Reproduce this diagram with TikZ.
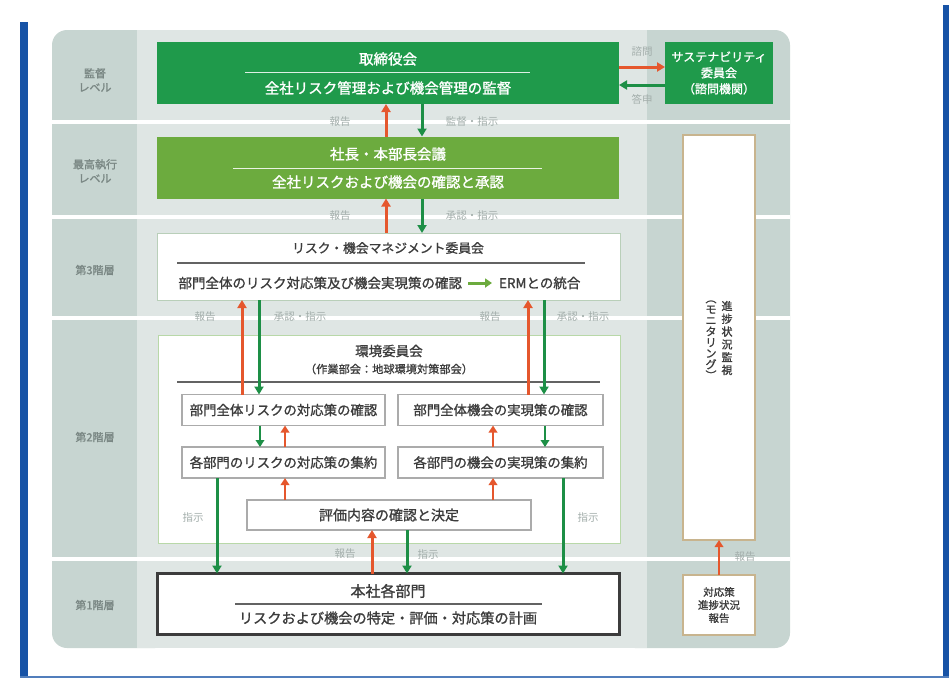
\documentclass[tikz,border=0pt]{standalone}
\usepackage{fontspec}
\setmainfont{Noto Sans CJK JP}
\newfontfamily\jpm{Noto Sans CJK JP}[FakeBold=1.2]
\usetikzlibrary{arrows.meta}
\definecolor{pnlDark}{HTML}{C7D5D1}
\definecolor{pnlLight}{HTML}{DFE6E4}
\definecolor{gDark}{HTML}{1F9A4B}
\definecolor{gLight}{HTML}{6CAB3E}
\definecolor{arrRed}{HTML}{E5572D}
\definecolor{arrGreen}{HTML}{1D8F46}
\definecolor{lblGray}{HTML}{A3AEAB}
\definecolor{lvlGray}{HTML}{7A8784}
\definecolor{txtDark}{HTML}{3C3C3C}
\definecolor{frameBlue}{HTML}{1753A6}
\definecolor{tanLine}{HTML}{C8B48E}
\definecolor{subLine}{HTML}{ABABAB}
\definecolor{bThreeLine}{HTML}{B9CFB9}
\definecolor{bFourLine}{HTML}{B8D8A8}
\begin{document}
\begin{tikzpicture}[x=1pt,y=-1pt,
  every node/.style={inner sep=0pt, outer sep=0pt},
  lvl/.style={text=lvlGray, font=\jpm\fontsize{11}{14}\selectfont, align=center},
  lbl/.style={text=lblGray, font=\fontsize{10.5}{12}\selectfont},
  gbox/.style={minimum width=462pt, minimum height=62pt},
  wtxt/.style={text=white, font=\jpm\fontsize{14.5}{16}\selectfont},
  dtxt/.style={text=txtDark, font=\jpm\fontsize{13.5}{15}\selectfont},
  sbox/.style={draw=subLine, line width=1.5pt, fill=white, minimum height=31pt, text=txtDark, font=\jpm\fontsize{13.4}{15}\selectfont},
  tanbox/.style={draw=tanLine, line width=1.5pt, fill=white, minimum width=72pt},
  uparr/.style={draw=arrRed, line width=3pt, -{Triangle[length=8pt,width=9pt]}},
  dnarr/.style={draw=arrGreen, line width=3pt, -{Triangle[length=8pt,width=9pt]}},
  upsm/.style={draw=arrRed, line width=2.5pt, -{Triangle[length=7pt,width=8.5pt]}},
  dnsm/.style={draw=arrGreen, line width=2.5pt, -{Triangle[length=7pt,width=8.5pt]}},
  vt/.style={align=center, text=txtDark, font=\jpm\fontsize{11}{12.8}\selectfont}
]
\useasboundingbox (0,0) rectangle (949,678);
% blue frame
\fill[frameBlue] (20,22) rectangle (28,678);
\fill[frameBlue] (943,5) rectangle (949,678);
\fill[frameBlue!75] (20,676) rectangle (949,678);
% panel
\fill[pnlDark, rounded corners=15pt] (52,30) rectangle (170,648);
\fill[pnlDark, rounded corners=15pt] (620,30) rectangle (790,648);
\fill[pnlLight] (137,30) rectangle (647,648);
\foreach \yy in {120,215,316,557} \fill[white] (52,\yy) rectangle (790,\yy+4);

% level labels
\node[lvl] (lv1) at (95,80) {監督\\レベル};
\node[lvl] (lv2) at (95,171) {最高執行\\レベル};
\node[lvl] (lv3) at (95,270) {第3階層};
\node[lvl] (lv4) at (95,437) {第2階層};
\node[lvl] (lv5) at (95,605) {第1階層};

% box 1
\node[gbox, fill=gDark] (b1) at (388,73) {};
\node[wtxt] (b1t) at (388,59) {取締役会};
\draw[white!85!gDark, line width=0.8pt] (245,72) -- (530,72);
\node[wtxt] (b1s) at (388,88) {全社リスク管理および機会管理の監督};

% sustainability committee
\node[fill=gDark, minimum width=108pt, minimum height=62pt] (sc) at (719,73) {};
\node[text=white, align=center, font=\jpm\fontsize{12}{16}\selectfont] (sct) at (719,73) {サステナビリティ\\委員会\\（諮問機関）};
\coordinate (yr) at (0,67);
\coordinate (yg) at (0,85);
\draw[uparr] (b1.east |- yr) -- (sc.west |- yr);
\draw[dnarr] (sc.west |- yg) -- (b1.east |- yg);
\node[lbl] (l0a) at (642,52) {諮問};
\node[lbl] (l0b) at (642,99) {答申};

% box 2
\node[gbox, fill=gLight] (b2) at (388,167.5) {};
\node[wtxt] (b2t) at (388,154) {社長・本部長会議};
\draw[white!85!gLight, line width=0.8pt] (233,168) -- (542,168);
\node[wtxt] (b2s) at (388,182) {全社リスクおよび機会の確認と承認};

% box 3
\node[draw=bThreeLine, line width=1pt, fill=white, minimum width=463pt, minimum height=67pt] (b3) at (388.5,266.5) {};
\node[dtxt, font=\jpm\fontsize{12.8}{15}\selectfont] (b3t) at (388,248) {リスク・機会マネジメント委員会};
\draw[txtDark!80, line width=2pt] (177,263) -- (585,263);
\node[dtxt, anchor=east] (b3a) at (462,283) {部門全体のリスク対応策及び機会実現策の確認};
\node[dtxt, anchor=west] (b3b) at (499,283) {ERMとの統合};
\draw[draw=gLight, line width=3pt, -{Triangle[length=7pt,width=9pt]}, shorten <=6pt, shorten >=7pt] (b3a.east) -- (b3b.west);

% box 4
\node[draw=bFourLine, line width=1pt, fill=white, minimum width=462pt, minimum height=208pt] (b4) at (389,439) {};
\node[dtxt] (b4t) at (389,351) {環境委員会};
\node[dtxt, font=\jpm\fontsize{11.2}{13}\selectfont] (b4s) at (389,369) {（作業部会：地球環境対策部会）};
\draw[txtDark!80, line width=2pt] (177,382) -- (600,382);

\node[sbox, minimum width=203pt] (sa) at (283.5,410) {部門全体リスクの対応策の確認};
\node[sbox, minimum width=205pt] (sb) at (500.5,410) {部門全体機会の実現策の確認};
\node[sbox, minimum width=203pt] (sc2) at (283.5,462.5) {各部門のリスクの対応策の集約};
\node[sbox, minimum width=205pt] (sd) at (500.5,462.5) {各部門の機会の実現策の集約};
\node[sbox, minimum width=284pt, minimum height=30pt, font=\jpm\fontsize{14}{16}\selectfont] (se) at (389,515) {評価内容の確認と決定};

% box F
\node[draw=txtDark, line width=2.5pt, fill=white, minimum width=462pt, minimum height=61pt] (bf) at (388.5,604) {};
\node[dtxt, font=\jpm\fontsize{15}{17}\selectfont] (bft) at (388,591) {本社各部門};
\draw[txtDark!80, line width=1.5pt] (235,604) -- (542,604);
\node[dtxt, font=\jpm\fontsize{14.2}{16}\selectfont] (bfs) at (388,618) {リスクおよび機会の特定・評価・対応策の計画};

% monitoring
\node[tanbox, minimum height=405pt] (mon) at (719,337.5) {};
\node[vt] (mv1) at (727,338) {進\\捗\\状\\況\\監\\視};
\node[vt, font=\jpm\fontsize{11}{11}\selectfont] (mv2) at (711,340) {︵\\モ\\ニ\\タ\\リ\\ン\\グ\\︶};
\node[tanbox, minimum height=60pt] (gb) at (719,605) {};
\node[text=txtDark, align=center, font=\jpm\fontsize{10.5}{13}\selectfont] (gbt) at (719,605) {対応策\\進捗状況\\報告};
\draw[upsm] (gb.north) -- (mon.south);
\node[lbl] (lgb) at (745,557) {報告};

% x positions
\coordinate (xa) at (386,0);
\coordinate (xb) at (422,0);
\coordinate (xc) at (242,0);
\coordinate (xd) at (259,0);
\coordinate (xe) at (528,0);
\coordinate (xf) at (544,0);
\coordinate (xg) at (260,0);
\coordinate (xh) at (285,0);
\coordinate (xi) at (493,0);
\coordinate (xj) at (545,0);
\coordinate (xk) at (217,0);
\coordinate (xl) at (563,0);
\coordinate (xm) at (407,0);
\coordinate (xn) at (372,0);

\draw[uparr] (b2.north -| xa) -- (b1.south -| xa);
\draw[dnarr] (b1.south -| xb) -- (b2.north -| xb);
\draw[uparr] (b3.north -| xa) -- (b2.south -| xa);
\draw[dnarr] (b2.south -| xb) -- (b3.north -| xb);
\draw[uparr] (sa.north -| xc) -- (b3.south -| xc);
\draw[dnarr] (b3.south -| xd) -- (sa.north -| xd);
\draw[uparr] (sb.north -| xe) -- (b3.south -| xe);
\draw[dnarr] (b3.south -| xf) -- (sb.north -| xf);
\draw[dnsm] (sa.south -| xg) -- (sc2.north -| xg);
\draw[upsm] (sc2.north -| xh) -- (sa.south -| xh);
\draw[upsm] (sd.north -| xi) -- (sb.south -| xi);
\draw[dnsm] (sb.south -| xj) -- (sd.north -| xj);
\draw[upsm] (se.north -| xh) -- (sc2.south -| xh);
\draw[upsm] (se.north -| xi) -- (sd.south -| xi);
\draw[dnarr] (sc2.south -| xk) -- (bf.north -| xk);
\draw[dnarr] (sd.south -| xl) -- (bf.north -| xl);
\draw[dnarr] (se.south -| xm) -- (bf.north -| xm);
\draw[uparr] (bf.north -| xn) -- (se.south -| xn);

% labels
\node[lbl] (l1) at (340,122) {報告};
\node[lbl] (l2) at (472,122) {監督・指示};
\node[lbl] (l3) at (340,216) {報告};
\node[lbl] (l4) at (472,216) {承認・指示};
\node[lbl] (l5) at (205,317) {報告};
\node[lbl] (l6) at (300,317) {承認・指示};
\node[lbl] (l7) at (490,317) {報告};
\node[lbl] (l8) at (583,317) {承認・指示};
\node[lbl] (l9) at (193,517) {指示};
\node[lbl] (l10) at (588,517) {指示};
\node[lbl] (l11) at (345,554) {報告};
\node[lbl] (l12) at (428,554) {指示};
\end{tikzpicture}
\end{document}
